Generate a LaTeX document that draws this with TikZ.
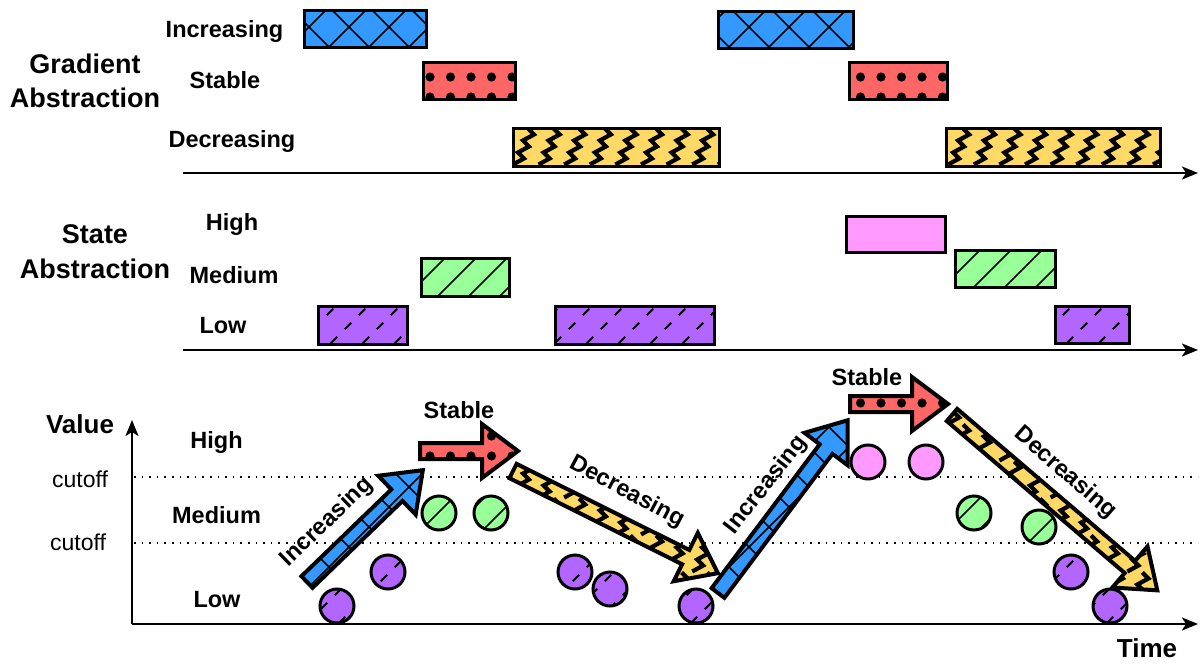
\documentclass[tikz,border=0pt]{standalone}
\usepackage{fontspec}
\setmainfont{Liberation Sans}
\usetikzlibrary{arrows.meta}
\definecolor{cblue}{HTML}{3399FF}
\definecolor{cred}{HTML}{FF6666}
\definecolor{cyel}{HTML}{FFD966}
\definecolor{cgreen}{HTML}{99FF99}
\definecolor{cpurp}{HTML}{B266FF}
\definecolor{cpink}{HTML}{FF99FF}
\tikzset{
  pline/.style={line width=1.6pt},
  pdash/.style={line width=2pt, dash pattern=on 9pt off 10.8pt},
  zline/.style={line width=4.2pt, line join=miter},
  rectborder/.style={line width=3pt},
  arrborder/.style={line width=4pt, line join=miter},
  cborder/.style={line width=3pt},
  axisline/.style={line width=2pt, -{Stealth[length=16pt,width=13pt,inset=4pt]}},
  dotline/.style={line width=1.6pt, dash pattern=on 1.6pt off 6pt},
  lab/.style={font=\fontsize{23.5}{28}\selectfont\bfseries, inner sep=0pt, anchor=base},
  ttl/.style={font=\fontsize{27}{32}\selectfont\bfseries, inner sep=0pt, anchor=base},
  big/.style={font=\fontsize{26}{31}\selectfont\bfseries, inner sep=0pt, anchor=base},
  cut/.style={font=\fontsize{23}{28}\selectfont, inner sep=0pt, anchor=base},
  alab/.style={font=\fontsize{23.5}{28}\selectfont\bfseries, inner sep=0pt},
}
% patterns (page coordinates)
\newcommand{\patcross}{%
  \foreach \cc in {-718,-678,...,1202}{\draw[pline] (\cc,0) -- (\cc+700,700);}%
  \foreach \dd in {16,56,...,1936}{\draw[pline] (\dd,0) -- (\dd-700,700);}}
\newcommand{\patgreen}{%
  \foreach \kk in {19,...,55}{\draw[pline] ({21+31*\kk},0) -- ({21+31*\kk-700},700);}}
\newcommand{\patpurp}{%
  \foreach \kk in {18,...,55}{\draw[pdash] ({2+32*\kk-707.2},707.2) -- ({2+32*\kk+7},-7);}}
\newcommand{\patdots}[1]{%
  \foreach \yy in {#1}{\foreach \ii in {-21,...,37}{\fill ({430+20.5*\ii},\yy) circle[radius=4.6pt];}}}
\newcommand{\patzig}[1]{%
  \foreach \jj in {#1}{\foreach \ii in {-2,...,27}{%
    \draw[zline] ({513+25.6*\ii},{128.5+37*\jj+36}) -- ++(11,-6) -- ++(-6,-6) -- ++(11,-6) -- ++(-6,-6) -- ++(11,-6) -- ++(-6,-6);}}}
% shapes
\newcommand{\prect}[6]{%
  \begin{scope}\clip (#1,#2) rectangle (#3,#4);
    \fill[#5] (#1,#2) rectangle (#3,#4); #6
  \end{scope}
  \draw[rectborder] (#1,#2) rectangle (#3,#4);}
\newcommand{\pcirc}[4]{%
  \begin{scope}\clip (#1,#2) circle[radius=17pt];
    \fill[#3] (#1,#2) circle[radius=17pt]; #4
  \end{scope}
  \draw[cborder] (#1,#2) circle[radius=17pt];}
\newcommand{\blockarrow}[6]{%
  \begin{scope}
    \path[clip, shift={(#1,#2)}, rotate=#3] (0,-8) -- (#4-36,-8) -- (#4-36,-27) -- (#4,0) -- (#4-36,27) -- (#4-36,8) -- (0,8) -- cycle;
    \fill[#5] (0,0) rectangle (1200,664);
    #6
  \end{scope}
  \draw[arrborder, shift={(#1,#2)}, rotate=#3] (0,-8) -- (#4-36,-8) -- (#4-36,-27) -- (#4,0) -- (#4-36,27) -- (#4-36,8) -- (0,8) -- cycle;}
\begin{document}
\begin{tikzpicture}[x=1pt,y=-1pt]
\useasboundingbox (0,0) rectangle (1200,664);
\fill[white] (0,0) rectangle (1200,664);

% ---------- left titles ----------
\node[ttl] (g1) at (85,73) {Gradient};
\node[ttl] (g2) at (85,107) {Abstraction};
\node[ttl] (s1) at (95,243) {State};
\node[ttl] (s2) at (95,278) {Abstraction};

\node[lab] (li) at (224.5,37) {Increasing};
\node[lab] (ls) at (225,88) {Stable};
\node[lab] (ld) at (232,147) {Decreasing};
\node[lab] (lh) at (232,230) {High};
\node[lab] (lm) at (234,283) {Medium};
\node[lab] (ll) at (223,333) {Low};

% ---------- gradient abstraction ----------
\prect{304}{10}{426}{47}{cblue}{\patcross}
\prect{718}{11}{853}{48}{cblue}{\patcross}
\prect{423}{62}{515}{99}{cred}{\patdots{77,97}}
\prect{849}{62}{947}{99}{cred}{\patdots{77,97}}
\prect{513}{128}{719}{166}{cyel}{\patzig{0}}
\prect{946}{128}{1160}{166}{cyel}{\patzig{0}}
\coordinate (ax1s) at (183,173);
\coordinate (ax1e) at (1198,173);
\draw[axisline] (ax1s) -- (ax1e);

% ---------- state abstraction ----------
\prect{846}{216}{945}{252}{cpink}{}
\prect{421}{258}{509}{296}{cgreen}{\patgreen}
\prect{955}{250}{1055}{287}{cgreen}{\patgreen}
\prect{318}{306}{407}{344}{cpurp}{\patpurp}
\prect{555}{306}{714}{344}{cpurp}{\patpurp}
\prect{1055}{306}{1129}{343}{cpurp}{\patpurp}
\coordinate (ax2s) at (183,350);
\coordinate (ax2e) at (1198,350);
\draw[axisline] (ax2s) -- (ax2e);

% ---------- value chart ----------
\coordinate (o) at (132,624);
\coordinate (ytop) at (132,420);
\coordinate (xend) at (1198,624);
\coordinate (cu1s) at (134,477);
\coordinate (cu1e) at (1198,477);
\coordinate (cu2s) at (134,543);
\coordinate (cu2e) at (1198,543);
\draw[dotline] (cu1s) -- (cu1e);
\draw[dotline] (cu2s) -- (cu2e);
\draw[axisline] (o) -- (ytop);
\draw[axisline] (o) -- (xend);

\node[big] (val) at (80,433) {Value};
\node[cut] (c1) at (80,487) {cutoff};
\node[cut] (c2) at (78,550) {cutoff};
\node[lab] (ch) at (216.5,448) {High};
\node[lab] (cm) at (216.5,523) {Medium};
\node[lab] (cl) at (217,607) {Low};
\node[big] (time) at (1147,657) {Time};

% arrows
\blockarrow{307}{582}{44}{161}{cblue}{\patcross}
\blockarrow{420}{451}{0}{98}{cred}{\patdots{436,456}}
\blockarrow{513}{471}{-26.5}{229}{cyel}{\patzig{8,9,10,11,12}}
\blockarrow{718}{593}{53.1}{216}{cblue}{\patcross}
\blockarrow{850}{404}{0}{98}{cred}{\patdots{403}}
\blockarrow{952}{415}{-40.5}{270}{cyel}{\patzig{7,8,9,10,11,12}}

\node[alab, rotate=44] (ai1) at (327,522) {Increasing};
\node[lab] (as1) at (459,418) {Stable};
\node[alab, rotate=-28] (ad1) at (627,492) {Decreasing};
\node[alab, rotate=52] (ai2) at (766,485) {Increasing};
\node[lab] (as2) at (867,385) {Stable};
\node[alab, rotate=-41] (ad2) at (1065,473) {Decreasing};

% circles
\pcirc{337}{606}{cpurp}{\patpurp}
\pcirc{388}{572}{cpurp}{\patpurp}
\pcirc{439}{513}{cgreen}{\patgreen}
\pcirc{491}{513}{cgreen}{\patgreen}
\pcirc{575}{572}{cpurp}{\patpurp}
\pcirc{610}{589}{cpurp}{\patpurp}
\pcirc{696}{606}{cpurp}{\patpurp}
\pcirc{868}{462}{cpink}{}
\pcirc{926}{462}{cpink}{}
\pcirc{974}{513}{cgreen}{\patgreen}
\pcirc{1039}{527}{cgreen}{\patgreen}
\pcirc{1071}{572}{cpurp}{\patpurp}
\pcirc{1110}{606}{cpurp}{\patpurp}
\end{tikzpicture}
\end{document}
